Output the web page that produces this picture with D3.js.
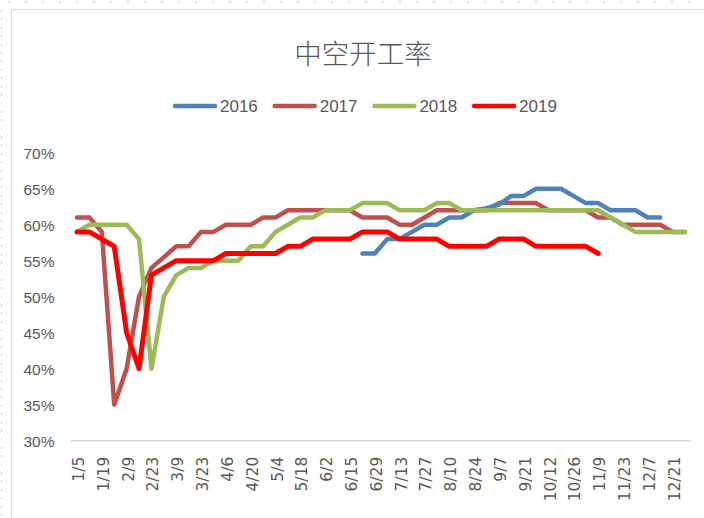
<!DOCTYPE html>
<html>
<head>
<meta charset="utf-8">
<script src="https://cdn.jsdelivr.net/npm/d3@7/dist/d3.min.js"></script>
<style>
  html, body { margin: 0; padding: 0; background: #fff; }
  svg { display: block; }
</style>
</head>
<body>
<svg id="chart" width="704" height="518"></svg>
<script>
// ---- data ----
const title = "中空开工率";
const categories = ["1/5","1/12","1/19","1/26","2/9","2/16","2/23","3/2","3/9","3/16",
  "3/23","3/30","4/6","4/13","4/20","4/27","5/4","5/11","5/18","5/25",
  "6/2","6/8","6/15","6/22","6/29","7/6","7/13","7/20","7/27","8/3",
  "8/10","8/17","8/24","8/31","9/7","9/14","9/21","9/28","10/12","10/19",
  "10/26","11/2","11/9","11/16","11/23","11/30","12/7","12/14","12/21","12/28"];
const seriesNames = ["2016","2017","2018","2019"];
const seriesColors = ["#4F81BD","#C0504D","#9BBB59","#FF0000"];
const s2016 = [null,null,null,null,null,null,null,null,null,null,
  null,null,null,null,null,null,null,null,null,null,
  null,null,null,56,56,58,58,59,60,60,
  61,61,62,62.3,62.8,64,64,65,65,65,
  64,63,63,62,62,62,61,61,null,null];
const s2017 = [61,61,59,35,40,50,54,55.5,57,57,
  59,59,60,60,60,61,61,62,62,62,
  62,62,62,61,61,61,60,60,61,62,
  62,62,62,62,63,63,63,63,62,62,
  62,62,61,61,60,60,60,60,59,59];
const s2018 = [59,60,60,60,60,58,40,50,53,54,
  54,55,55,55,57,57,59,60,61,61,
  62,62,62,63,63,63,62,62,62,63,
  63,62,62,62,62,62,62,62,62,62,
  62,62,62,61,60,59,59,59,59,59];
const s2019 = [59,59,58,57,45,40,53,54,55,55,
  55,55,56,56,56,56,56,57,57,58,
  58,58,58,59,59,59,58,58,58,58,
  57,57,57,57,58,58,58,57,57,57,
  57,57,56,null,null,null,null,null,null,null];
const yTicks = [30,35,40,45,50,55,60,65,70];
const seriesValues = [s2016, s2017, s2018, s2019];

// ---- layout ----
const svg = d3.select("#chart");
const plot = {left: 70.8, right: 691.2, top: 152.7, bottom: 440.7};

// outer sheet decorations
svg.append("rect").attr("x",0).attr("y",0).attr("width",704).attr("height",518).attr("fill","#fff");
const deco = svg.append("g").attr("fill","#c8c8c8");
for (let x = 8.5; x < 704; x += 17) deco.append("rect").attr("x",x).attr("y",1).attr("width",1).attr("height",2);
for (let y = 10; y < 518; y += 8.4) deco.append("rect").attr("x",1).attr("y",y).attr("width",1).attr("height",2);
svg.append("path").attr("d","M11.5,518 V9.5 H704").attr("fill","none").attr("stroke","#d9d9d9").attr("stroke-width",1);

const x = d3.scalePoint().domain(categories).range([plot.left, plot.right]).padding(0.5);
const y = d3.scaleLinear().domain([30,70]).range([plot.bottom, plot.top]);

// title
svg.append("text").attr("x",363).attr("y",51.5)
  .attr("text-anchor","middle").attr("dominant-baseline","central")
  .attr("font-family","'Noto Sans CJK SC', sans-serif").attr("font-size",27.5)
  .attr("font-weight",300)
  .attr("fill","#595959").text(title);

// y axis
const yAxis = d3.axisLeft(y).tickValues(yTicks).tickSize(0).tickPadding(0)
  .tickFormat(d => d + "%");
const yg = svg.append("g").attr("transform","translate(54.5,0)").call(yAxis);
yg.select(".domain").remove();
yg.selectAll("text").attr("font-family","'Liberation Sans', Arial, sans-serif")
  .attr("font-size",15.5).attr("fill","#595959").attr("dy","0.35em");

// x axis baseline
svg.append("line").attr("x1",plot.left).attr("x2",plot.right)
  .attr("y1",y(30)).attr("y2",y(30)).attr("stroke","#d9d9d9").attr("stroke-width",1.5);

// x axis labels
const xAxis = d3.axisBottom(x).tickSize(0).tickPadding(0)
  .tickValues(categories.filter((d,i) => i % 2 === 0));
const xg = svg.append("g").attr("transform",`translate(0,${y(30)})`).call(xAxis);
xg.select(".domain").remove();
xg.selectAll("text")
  .attr("font-family","'DejaVu Sans', sans-serif").attr("font-size",15.5).attr("fill","#595959")
  .attr("text-anchor","end").attr("dy",null)
  .attr("transform","translate(1.5,16) rotate(-90)")
  .attr("x",0).attr("y",0).attr("dominant-baseline","central");

// lines
const line = d3.line()
  .defined(d => d.v !== null)
  .x(d => x(d.c)).y(d => y(d.v));
const drawOrder = [1,0,2,3];
drawOrder.forEach(si => {
  const pts = categories.map((c,i) => ({c, v: seriesValues[si][i]}));
  svg.append("path").datum(pts)
    .attr("d", line)
    .attr("fill","none")
    .attr("stroke", seriesColors[si])
    .attr("stroke-width", si === 3 ? 5 : 4.5)
    .attr("stroke-linejoin","round")
    .attr("stroke-linecap","round");
});

// legend
const lg = svg.append("g").attr("transform","translate(174,106)");
seriesNames.forEach((name,i) => {
  const g = lg.append("g").attr("transform",`translate(${i*99.7},0)`);
  g.append("line").attr("x1",1).attr("x2",41).attr("y1",0).attr("y2",0)
    .attr("stroke",seriesColors[i]).attr("stroke-width",4.5).attr("stroke-linecap","round");
  g.append("text").attr("x",46).attr("y",0).attr("dominant-baseline","central")
    .attr("font-family","'Liberation Sans', Arial, sans-serif")
    .attr("font-size",17).attr("fill","#595959").text(name);
});
</script>
</body>
</html>
